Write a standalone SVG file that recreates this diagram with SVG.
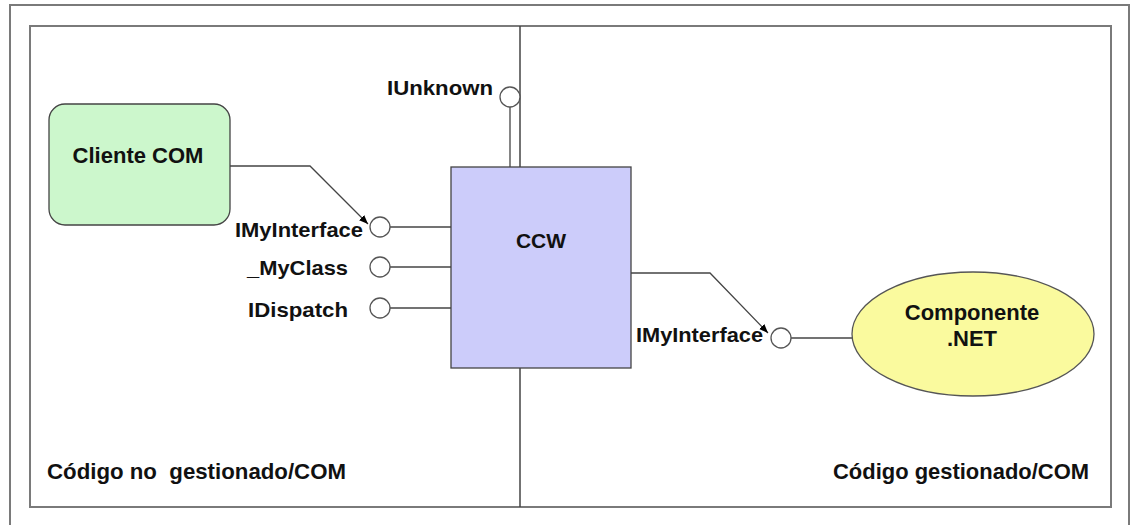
<svg xmlns="http://www.w3.org/2000/svg" width="1131" height="525" viewBox="0 0 1131 525">
<style>
.frame{fill:none;stroke:#7a7a7a;stroke-width:2}
.ln{fill:none;stroke:#444;stroke-width:1.3}
.port{fill:#fff;stroke:#555;stroke-width:1.3}
.t{font-family:"Liberation Sans",Arial,sans-serif;font-weight:bold;fill:#111;white-space:pre}
</style>
<defs>
<marker id="arr" viewBox="0 0 10 10" refX="10" refY="5" markerWidth="9" markerHeight="9" markerUnits="userSpaceOnUse" orient="auto">
<path d="M0,1 L10,5 L0,9 Z" fill="#000"/>
</marker>
</defs>
<rect width="1131" height="525" fill="#fff"/>
<g id="frame">
<rect class="frame" x="10" y="5" width="1119" height="530"/>
<rect class="frame" x="30" y="26" width="1081" height="481"/>
<line x1="520" y1="26" x2="520" y2="507" stroke="#444" stroke-width="1.5"/>
</g>
<g id="connectors">
<line class="ln" x1="510" y1="107" x2="510" y2="167"/>
<line class="ln" x1="390" y1="227" x2="451" y2="227"/>
<line class="ln" x1="390" y1="267" x2="451" y2="267"/>
<line class="ln" x1="390" y1="308" x2="451" y2="308"/>
<line class="ln" x1="791" y1="338" x2="852" y2="338"/>
<polyline class="ln" points="230,166 310,166 368,224" marker-end="url(#arr)"/>
<polyline class="ln" points="631,273 710,273 768,333" marker-end="url(#arr)"/>
</g>
<g id="cliente">
<rect x="49" y="104" width="181" height="121" rx="16" fill="#ccf7cc" stroke="#444" stroke-width="1.3"/>
<text class="t" x="138" y="163" font-size="22" text-anchor="middle" fill="#0d260d">Cliente COM</text>
</g>
<g id="ccw">
<rect x="451" y="167" width="180" height="201" fill="#ccccfa" stroke="#444" stroke-width="1.3"/>
<text class="t" x="541" y="248" font-size="21" text-anchor="middle" fill="#141438">CCW</text>
</g>
<g id="componente">
<ellipse cx="973" cy="334" rx="121" ry="62" fill="#fafa9e" stroke="#555" stroke-width="1.3"/>
<text class="t" x="972" y="320" font-size="22" text-anchor="middle">Componente</text>
<text class="t" x="972" y="346" font-size="22" text-anchor="middle">.NET</text>
</g>
<g id="iunknown">
<circle class="port" cx="510" cy="97" r="10"/>
<text class="t" x="493" y="95" font-size="21" text-anchor="end" textLength="106" lengthAdjust="spacingAndGlyphs">IUnknown</text>
</g>
<g id="imyinterface-left">
<circle class="port" cx="380" cy="227" r="10"/>
<text class="t" x="363" y="237" font-size="21" text-anchor="end" textLength="128" lengthAdjust="spacingAndGlyphs">IMyInterface</text>
</g>
<g id="myclass">
<circle class="port" cx="380" cy="267" r="10"/>
<text class="t" x="348" y="275" font-size="21" text-anchor="end" textLength="101" lengthAdjust="spacingAndGlyphs">_MyClass</text>
</g>
<g id="idispatch">
<circle class="port" cx="380" cy="308" r="10"/>
<text class="t" x="348" y="317" font-size="21" text-anchor="end" textLength="100" lengthAdjust="spacingAndGlyphs">IDispatch</text>
</g>
<g id="imyinterface-right">
<circle class="port" cx="781" cy="338" r="10"/>
<text class="t" x="636" y="342" font-size="21" textLength="127" lengthAdjust="spacingAndGlyphs">IMyInterface</text>
</g>
<g id="labels">
<text class="t" x="47" y="479" font-size="22" textLength="299" lengthAdjust="spacingAndGlyphs">Código no  gestionado/COM</text>
<text class="t" x="833" y="479" font-size="22" textLength="256" lengthAdjust="spacingAndGlyphs">Código gestionado/COM</text>
</g>
</svg>
